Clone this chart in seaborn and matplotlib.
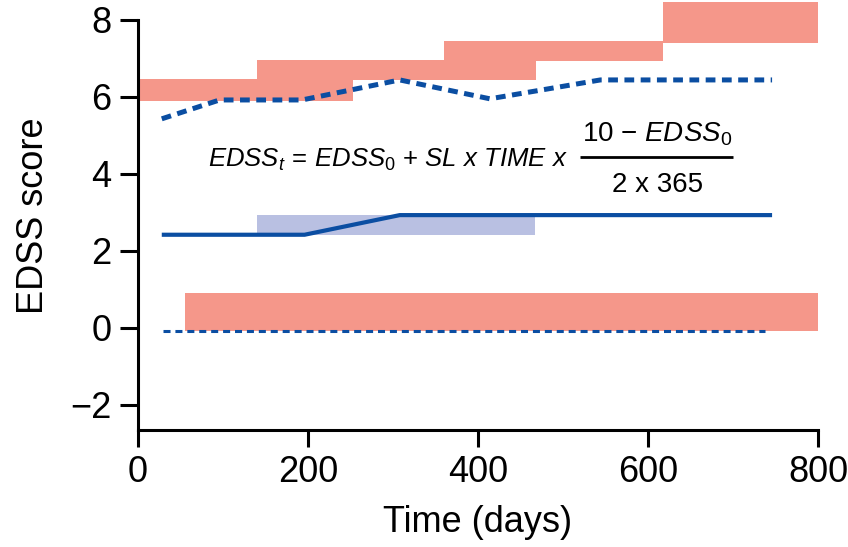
import matplotlib
matplotlib.use("Agg")
import matplotlib.pyplot as plt
import seaborn as sns
import pandas as pd
from matplotlib import font_manager

sns.set_theme(style="ticks")

# pick a narrow font for the formula if we have one
try:
    font_manager.findfont("Liberation Sans Narrow", fallback_to_default=False)
    narrow = "Liberation Sans Narrow"
except Exception:
    narrow = "Liberation Sans"

plt.rcParams["font.family"] = ["Liberation Sans", "DejaVu Sans"]
plt.rcParams["mathtext.fontset"] = "custom"
plt.rcParams["mathtext.it"] = narrow + ":italic"
plt.rcParams["mathtext.rm"] = narrow
plt.rcParams["mathtext.default"] = "it"
for key in ["text.color", "axes.labelcolor", "xtick.color", "ytick.color"]:
    plt.rcParams[key] = "black"

# red bands (time interval x EDSS range)
red_start = [0, 140, 360, 618, 55]
red_end = [253, 468, 618, 800, 800]
red_low = [5.90, 6.43, 6.94, 7.41, -0.08]
red_high = [6.47, 6.96, 7.45, 8.47, 0.92]

# lavender band
blue_start = [140]
blue_end = [467]
blue_low = [2.42]
blue_high = [2.92]

# lines
solid_days = [28, 196, 308, 746]
solid_edss = [2.42, 2.42, 2.93, 2.93]
dash_days = [28, 96, 193, 308, 414, 544, 746]
dash_edss = [5.43, 5.92, 5.92, 6.44, 5.95, 6.44, 6.44]
base_days = [29, 738]
base_edss = [-0.08, -0.08]

red = "#F5978A"
lav = "#B9C0E2"
blue = "#0B4EA2"

fig = plt.figure(figsize=(8.48, 5.47), dpi=100)
ax = fig.add_axes([0.1627, 0.2139, 0.8019, 0.785])

ax.bar(red_start, [h - l for h, l in zip(red_high, red_low)],
       width=[e - s for e, s in zip(red_end, red_start)],
       bottom=red_low, align="edge", color=red, linewidth=0, zorder=1)
ax.bar(blue_start, [h - l for h, l in zip(blue_high, blue_low)],
       width=[e - s for e, s in zip(blue_end, blue_start)],
       bottom=blue_low, align="edge", color=lav, linewidth=0, zorder=1)

df_solid = pd.DataFrame({"Time": solid_days, "EDSS": solid_edss})
df_dash = pd.DataFrame({"Time": dash_days, "EDSS": dash_edss})
df_base = pd.DataFrame({"Time": base_days, "EDSS": base_edss})

sns.lineplot(data=df_solid, x="Time", y="EDSS", ax=ax, color=blue,
             linewidth=3.0, solid_capstyle="butt", zorder=3)
sns.lineplot(data=df_dash, x="Time", y="EDSS", ax=ax, color=blue,
             linewidth=3.6, zorder=3)
ax.lines[-1].set_dashes((1.95, 1.3))
ax.lines[-1].set_dash_capstyle("butt")
sns.lineplot(data=df_base, x="Time", y="EDSS", ax=ax, color=blue,
             linewidth=2.2, zorder=3)
ax.lines[-1].set_dashes((2.3, 1.6))
ax.lines[-1].set_dash_capstyle("butt")

# formula
ax.text(82, 4.36,
        r"$EDSS_t\,\mathrm{{=}}\,EDSS_\mathrm{0}\ \mathrm{{+}}\ SL\ x\ TIME\ x$",
        fontsize=18.5, ha="left", va="center")
ax.text(611, 5.04, r"$\mathrm{10}\ \mathrm{{-}}\ EDSS_\mathrm{0}$",
        fontsize=20, ha="center", va="center")
ax.text(611, 3.72, "2 x 365", family=narrow,
        fontsize=20, ha="center", va="center")
ax.plot([520, 700], [4.44, 4.44], color="black", linewidth=2.0,
        solid_capstyle="butt")

ax.set_xlim(0, 800)
ax.set_ylim(-2.65, 8.5)
ax.set_xticks([0, 200, 400, 600, 800])
ax.set_yticks([-2, 0, 2, 4, 6, 8])
ax.set_yticklabels(["\u22122", "0", "2", "4", "6", "8"])

ax.set_xlabel("Time (days)", fontsize=26, labelpad=11)
ax.set_ylabel("EDSS score", fontsize=26, labelpad=14)
ax.tick_params(axis="both", labelsize=26, width=2.2, color="black",
               direction="out", pad=6)
ax.tick_params(axis="x", length=12)
ax.tick_params(axis="y", length=13)

sns.despine(ax=ax)
for side in ["left", "bottom"]:
    ax.spines[side].set_linewidth(2.2)
    ax.spines[side].set_color("black")
ax.spines["left"].set_bounds(-2.65, 8)
ax.spines["bottom"].set_bounds(0, 800)
ax.set_facecolor("white")
ax.grid(False)

fig.savefig("out.png", dpi=100, facecolor="white")
